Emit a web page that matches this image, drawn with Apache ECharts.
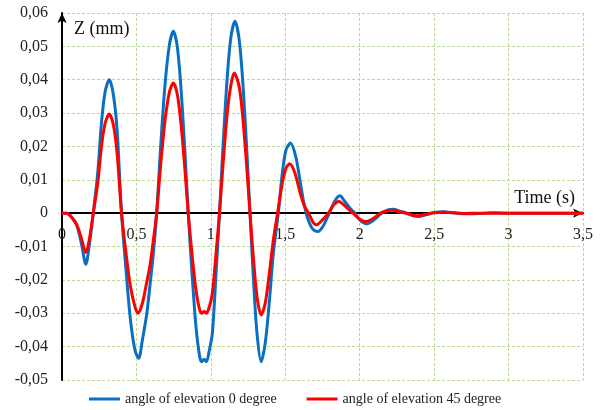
<!DOCTYPE html>
<html>
<head>
<meta charset="utf-8">
<script src="https://cdn.jsdelivr.net/npm/echarts@6/dist/echarts.min.js"></script>
<style>
  html, body { margin: 0; padding: 0; background: #fff; }
  #chart { width: 600px; height: 410px; }
</style>
</head>
<body>
<div id="chart"></div>
<script>
// values
const blueTime = [0, 0.03, 0.07, 0.10, 0.13, 0.16, 0.185, 0.21, 0.24, 0.265, 0.29, 0.318, 0.345, 0.37, 0.40,
  0.43, 0.46, 0.49, 0.515, 0.54, 0.57, 0.59, 0.614, 0.636, 0.66, 0.69, 0.72, 0.748, 0.775, 0.80, 0.825, 0.848,
  0.875, 0.90, 0.925, 0.94, 0.955, 0.97, 0.99, 1.01, 1.035, 1.058, 1.08, 1.11, 1.135, 1.162, 1.19, 1.215, 1.24,
  1.263, 1.285, 1.31, 1.338, 1.365, 1.39, 1.42, 1.453, 1.48, 1.505, 1.535, 1.57, 1.60, 1.625, 1.65, 1.685, 1.72,
  1.75, 1.78, 1.80, 1.835, 1.867, 1.90, 1.935, 1.968, 2.00, 2.046, 2.09, 2.147, 2.19, 2.225, 2.27, 2.315, 2.36,
  2.393, 2.45, 2.50, 2.56, 2.63, 2.70, 2.80, 2.90, 3.00, 3.20, 3.50]
const blueZ = [0, 0, -0.0015, -0.0038, -0.009, -0.0153, -0.009, 0, 0.012, 0.027, 0.0365, 0.040, 0.0355, 0.025, 0,
  -0.017, -0.032, -0.041, -0.0435, -0.038, -0.030, -0.022, -0.012, 0, 0.018, 0.0374, 0.050, 0.0545, 0.0497, 0.037, 0.019, 0,
  -0.019, -0.034, -0.043, -0.0445, -0.0438, -0.0445, -0.041, -0.036, -0.018, 0, 0.0187, 0.0407, 0.0528, 0.0575, 0.0521, 0.039, 0.020,
  0, -0.019, -0.036, -0.0445, -0.039, -0.028, -0.012, 0, 0.012, 0.019, 0.021, 0.017, 0.0095, 0.003, -0.0015, -0.0048, -0.0055,
  -0.0042, -0.0015, 0.0005, 0.0038, 0.0052, 0.0035, 0.0015, 0, -0.002, -0.0032, -0.0022, 0, 0.001, 0.0012, 0.0006, 0, -0.0008,
  -0.001, -0.0004, 0.0002, 0.0004, 0.0001, -0.0002, -0.0001, 0.0001, 0, 0, 0]

const redTime = [0, 0.03, 0.07, 0.10, 0.13, 0.16, 0.185, 0.21, 0.24, 0.265, 0.29, 0.318, 0.345, 0.37, 0.40,
  0.43, 0.46, 0.49, 0.51, 0.54, 0.57, 0.59, 0.614, 0.636, 0.66, 0.69, 0.72, 0.748, 0.775, 0.80, 0.825, 0.848,
  0.875, 0.90, 0.925, 0.94, 0.955, 0.97, 0.99, 1.01, 1.035, 1.058, 1.08, 1.11, 1.135, 1.157, 1.19, 1.215, 1.24,
  1.263, 1.285, 1.31, 1.338, 1.365, 1.39, 1.42, 1.448, 1.48, 1.505, 1.53, 1.565, 1.60, 1.63, 1.66, 1.69, 1.71,
  1.75, 1.79, 1.825, 1.86, 1.90, 1.955, 2.00, 2.04, 2.09, 2.14, 2.19, 2.22, 2.27, 2.31, 2.36, 2.39, 2.45, 2.50,
  2.56, 2.63, 2.70, 2.80, 3.00, 3.50]
const redZ = [0, 0, -0.0015, -0.0035, -0.0075, -0.0118, -0.0075, 0, 0.009, 0.020, 0.027, 0.0297, 0.0265, 0.018, 0,
  -0.012, -0.022, -0.028, -0.030, -0.027, -0.0205, -0.016, -0.008, 0, 0.013, 0.027, 0.036, 0.039, 0.0355, 0.0265, 0.0135, 0,
  -0.013, -0.023, -0.029, -0.030, -0.0295, -0.030, -0.028, -0.024, -0.012, 0, 0.0135, 0.030, 0.0385, 0.042, 0.038, 0.0285, 0.0145,
  0, -0.013, -0.025, -0.0305, -0.027, -0.019, -0.008, 0, 0.009, 0.0135, 0.0148, 0.012, 0.006, 0.002, -0.0003, -0.003, -0.0035,
  -0.002, 0, 0.0025, 0.0035, 0.0022, 0, -0.0018, -0.0025, -0.0016, 0, 0.0008, 0.0009, 0.0004, 0, -0.0006, -0.0008, -0.0003, 0.0001,
  0.0003, 0.0001, -0.0001, 0, 0, 0]

const seriesNames = ['angle of elevation 0 degree', 'angle of elevation 45 degree']

const serif = "'Liberation Serif', 'Times New Roman', serif"
const gridColor = '#b9dc92'

function pairs(t, z) {
  return t.map((v, i) => [v, z[i]])
}

function comma(v, digits) {
  if (Math.abs(v) < 1e-9) return '0'
  return v.toFixed(digits).replace(/\.?0+$/, '').replace('.', ',')
}

const chart = echarts.init(document.getElementById('chart'))

chart.setOption({
  animation: false,
  grid: { left: 62, right: 17, top: 13, bottom: 30 },
  legend: {
    data: seriesNames,
    left: 84,
    top: 387,
    icon: 'rect',
    itemWidth: 31,
    itemHeight: 3,
    itemGap: 30,
    textStyle: { fontFamily: serif, fontSize: 14, color: '#222' },
  },
  xAxis: {
    type: 'value',
    min: 0,
    max: 3.5,
    interval: 0.5,
    name: 'Time (s)',
    nameLocation: 'end',
    nameGap: -8,
    nameTextStyle: {
      fontFamily: serif, fontSize: 18, color: '#111',
      align: 'right', verticalAlign: 'bottom', padding: [0, 0, 6, 0],
    },
    axisLine: {
      onZero: true,
      symbol: ['none', 'arrow'],
      symbolSize: [7, 10],
      lineStyle: { color: '#000', width: 2 },
    },
    axisTick: { show: false },
    axisLabel: {
      // labels sit just under the zero line, not at the bottom of the grid
      margin: -153,
      fontFamily: serif, fontSize: 16, color: '#222',
      formatter: (v) => comma(v, 1),
    },
    splitLine: { show: true, lineStyle: { color: gridColor, type: [3, 2], width: 1 } },
  },
  yAxis: {
    type: 'value',
    min: -0.05,
    max: 0.06,
    interval: 0.01,
    name: 'Z (mm)',
    nameLocation: 'end',
    nameGap: -7,
    nameTextStyle: {
      fontFamily: serif, fontSize: 18, color: '#111',
      align: 'left', verticalAlign: 'top', padding: [0, 0, 0, 12],
    },
    axisLine: {
      show: true,
      onZero: false,
      symbol: ['none', 'arrow'],
      symbolSize: [7, 10],
      lineStyle: { color: '#000', width: 2 },
    },
    axisTick: { show: false },
    axisLabel: {
      margin: 14,
      fontFamily: serif, fontSize: 16, color: '#222',
      formatter: (v) => comma(v, 2),
    },
    splitLine: { show: true, lineStyle: { color: gridColor, type: [3, 2], width: 1 } },
  },
  series: [
    {
      name: seriesNames[0],
      type: 'line',
      smooth: 0.3,
      showSymbol: false,
      data: pairs(blueTime, blueZ),
      lineStyle: { color: '#0a6fc2', width: 3 },
      itemStyle: { color: '#0a6fc2' },
    },
    {
      name: seriesNames[1],
      type: 'line',
      smooth: 0.3,
      showSymbol: false,
      data: pairs(redTime, redZ),
      lineStyle: { color: '#ff0000', width: 3 },
      itemStyle: { color: '#ff0000' },
    },
  ],
})
</script>
</body>
</html>
